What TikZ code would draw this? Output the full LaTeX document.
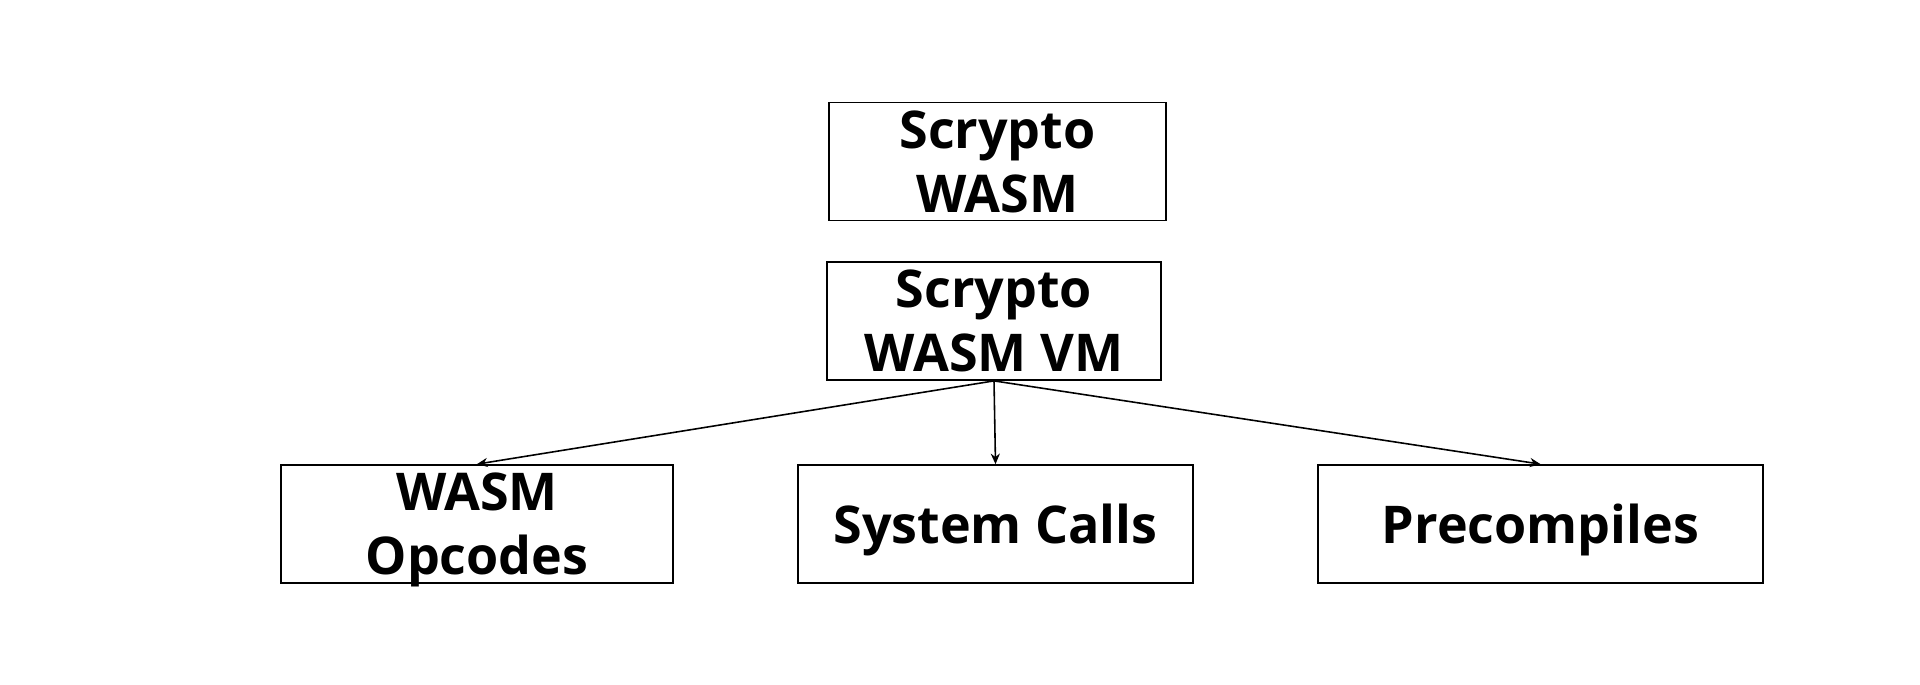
\documentclass[tikz,border=0pt]{standalone}
\usepackage{fontspec}
\setmainfont{Open Sans}
\usetikzlibrary{arrows.meta}

\begin{document}
\begin{tikzpicture}[shorten >=0pt,-{Stealth[length=3pt,width=2.6pt]},line width=0.45pt]
    \tikzstyle{block}=[draw=black,line width=0.5pt,inner sep=0pt,minimum height=1.18cm,align=center,text depth=0pt,font=\bfseries\fontsize{14.8}{18.2}\selectfont]
    \useasboundingbox (0,0) rectangle (19.2,-6.84);

    \node[block,minimum width=3.37cm] (wasm) at (9.975,-1.615) {Scrypto\\WASM};
    \node[block,minimum width=3.34cm] (vm) at (9.94,-3.21) {Scrypto\\WASM VM};

    \foreach \name/\x/\w/\txt in {opc/4.77/3.92/{WASM\\Opcodes}, sys/9.955/3.95/{System Calls}, pre/15.405/4.45/{Precompiles}}
            \node[block,minimum width=\w cm] (\name) at (\x,-5.24) {\txt};

        \foreach \to in {opc,sys,pre}
            \draw (vm.south) -- (\to.north);
\end{tikzpicture}
\end{document}
